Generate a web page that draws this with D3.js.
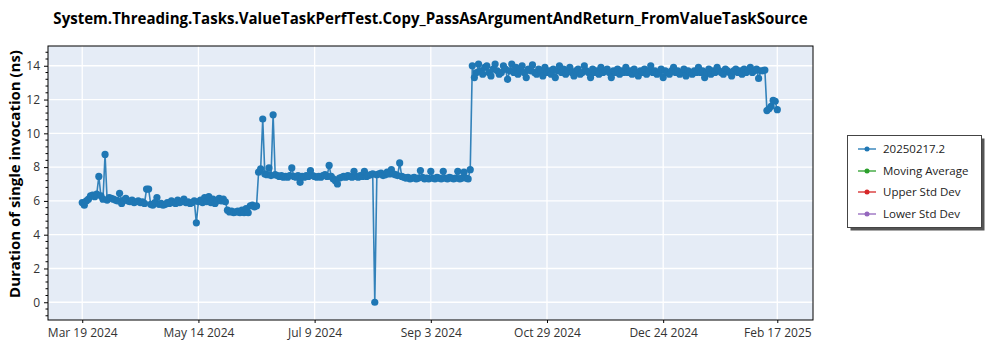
<!DOCTYPE html>
<html>
<head>
<meta charset="utf-8">
<script src="https://cdn.jsdelivr.net/npm/d3@7"></script>
<style>
  html, body { margin: 0; padding: 0; background: #fff; }
  svg { display: block; font-family: "Open Sans", "Noto Sans", sans-serif; }
</style>
</head>
<body>
<svg id="chart" width="1000" height="350"></svg>
<script>
// ---------------- data ----------------
const title = "System.Threading.Tasks.ValueTaskPerfTest.Copy_PassAsArgumentAndReturn_FromValueTaskSource";
const yLabel = "Duration of single invocation (ns)";
const seriesStart = "2024-03-19"; // first run, one run per day
const legendLabels = ["20250217.2", "Moving Average", "Upper Std Dev", "Lower Std Dev"];
const legendColors = ["#1f77b4", "#2ca02c", "#d62728", "#9467bd"];
const xTickDates = ["2024-03-19", "2024-05-14", "2024-07-09", "2024-09-03", "2024-10-29", "2024-12-24", "2025-02-17"];
const xTickLabels = ["Mar 19 2024", "May 14 2024", "Jul 9 2024", "Sep 3 2024", "Oct 29 2024", "Dec 24 2024", "Feb 17 2025"];
const yTicks = [0, 2, 4, 6, 8, 10, 12, 14];

// Mar 19 - May 28 2024 (~6 ns)
const valuesA = [
  5.9, 5.75, 6.0, 6.1, 6.3, 6.35, 6.25, 6.4, 7.45, 6.3,
  6.1, 8.75, 6.05, 6.2, 6.15, 6.1, 6.05, 6.0, 6.45, 5.85,
  6.05, 6.15, 6.0, 5.95, 6.05, 5.9, 5.95, 6.0, 5.9, 5.95,
  5.85, 6.7, 6.7, 5.8, 5.75, 5.9, 6.2, 5.8, 5.85, 5.75,
  5.8, 5.9, 5.85, 6.0, 5.9, 5.85, 6.05, 5.9, 5.95, 6.1,
  5.9, 5.95, 5.85, 5.9, 6.0, 4.7, 5.95, 6.05, 5.9, 6.2,
  5.95, 6.25, 5.9, 6.1, 5.85, 6.0, 6.15, 6.0, 6.1, 5.95
];
// late May - mid June 2024 (~5.4 ns)
const valuesB = [5.45, 5.35, 5.4, 5.3, 5.35, 5.4, 5.3, 5.45, 5.3, 5.55, 5.3, 5.7, 5.75, 5.65, 5.7];
// mid June - Sep 22 2024 (~7.4 ns)
const valuesC = [
  7.7, 7.9, 10.85, 7.6, 7.55, 7.95, 7.5, 11.1, 7.55, 7.5,
  7.45, 7.5, 7.4, 7.45, 7.4, 7.5, 7.95, 7.45, 7.4, 7.5,
  7.1, 7.45, 7.4, 7.5, 7.45, 7.8, 7.5, 7.45, 7.4, 7.45,
  7.4, 7.5, 7.55, 7.45, 8.1, 7.45, 7.3, 7.2, 7.0, 7.35,
  7.4, 7.45, 7.4, 7.5, 7.45, 7.4, 7.75, 7.45, 7.4, 7.5,
  7.45, 7.75, 7.45, 7.5, 7.55, 7.6, 0.0, 7.55, 7.6, 7.65,
  7.5, 7.55, 7.7, 7.6, 7.85, 7.6, 7.55, 7.5, 8.25, 7.45,
  7.4, 7.35, 7.4, 7.3, 7.35, 7.4, 7.3, 7.35, 7.8, 7.4,
  7.3, 7.35, 7.3, 7.75, 7.35, 7.3, 7.4, 7.35, 7.3, 7.75,
  7.35, 7.3, 7.4, 7.35, 7.3, 7.35, 7.75, 7.3, 7.35, 7.7,
  7.35, 7.3, 7.85
];
// Sep 23 2024 - Feb 11 2025 (~13.7 ns)
const valuesD = [
  14.0, 13.3, 13.6, 14.1, 13.7, 13.5, 13.9, 14.0, 13.6, 13.4,
  13.8, 14.1, 13.7, 13.5, 13.6, 14.0, 13.8, 13.2, 13.7, 14.1,
  13.6, 13.9, 13.5, 13.7, 14.0, 13.6, 13.3, 13.8, 13.7, 14.05,
  13.6, 13.5, 13.8, 13.7, 13.4, 13.9, 13.6, 13.7, 13.5, 13.8,
  13.3, 13.7, 14.0, 13.6, 13.8, 13.5, 13.7, 13.9, 13.6, 13.4,
  13.7, 13.8, 13.5, 13.6, 14.0, 13.7, 13.6, 13.3, 13.8, 13.6,
  13.7, 13.5, 13.9, 13.6, 13.7, 13.8, 13.6, 13.3, 13.7, 13.6,
  13.8, 13.5, 13.7, 13.6, 13.9, 13.6, 13.7, 13.5, 13.8, 13.6,
  13.4, 13.7, 13.6, 13.8, 13.5, 13.7, 14.0, 13.6, 13.7, 13.5,
  13.6, 13.8, 13.3, 13.7, 13.6, 13.5, 13.7, 13.9, 13.6, 13.7,
  13.5, 13.6, 13.8, 13.4, 13.7, 13.6, 13.5, 13.7, 13.6, 13.9,
  13.6, 13.7, 13.3, 13.6, 13.8, 13.5, 13.7, 13.6, 13.9, 13.7,
  13.6, 13.5, 13.8, 13.7, 13.6, 13.4, 13.7, 13.8, 13.6, 13.7,
  13.5, 13.8, 13.6, 13.7, 13.9, 13.6, 13.7, 13.8, 13.25, 13.7,
  13.7, 13.75
];
// Feb 12 - Feb 17 2025 (~11.5 ns)
const valuesE = [11.35, 11.45, 11.6, 11.95, 11.9, 11.4];

// ---------------- layout ----------------
const W = 1000, H = 350;
const plot = { left: 48, right: 813, top: 46, bottom: 320 };
const parse = d3.utcParse("%Y-%m-%d");

const values = [].concat(valuesA, valuesB, valuesC, valuesD, valuesE);
const start = parse(seriesStart);
const data = values.map((v, i) => ({ date: d3.utcDay.offset(start, i), value: v }));

const x = d3.scaleUtc()
  .domain([new Date(Date.UTC(2024, 2, 2, 12)), new Date(Date.UTC(2025, 2, 6, 5))])
  .range([plot.left, plot.right]);
const y = d3.scaleLinear().domain([-1.05, 15.17]).range([plot.bottom, plot.top]);

const svg = d3.select("#chart");

// background
svg.append("rect").attr("x", 0).attr("y", 0).attr("width", W).attr("height", H).attr("fill", "#fff");
svg.append("rect")
  .attr("x", plot.left).attr("y", plot.top)
  .attr("width", plot.right - plot.left).attr("height", plot.bottom - plot.top)
  .attr("fill", "#e5ecf6");

// grid
const xTicks = xTickDates.map(parse);
svg.append("g").selectAll("line").data(xTicks).join("line")
  .attr("x1", d => x(d)).attr("x2", d => x(d))
  .attr("y1", plot.top).attr("y2", plot.bottom)
  .attr("stroke", "#fff").attr("stroke-width", 1.3);
svg.append("g").selectAll("line").data(yTicks).join("line")
  .attr("x1", plot.left).attr("x2", plot.right)
  .attr("y1", d => y(d)).attr("y2", d => y(d))
  .attr("stroke", "#fff").attr("stroke-width", 1.3);

// series
svg.append("clipPath").attr("id", "clip").append("rect")
  .attr("x", plot.left).attr("y", plot.top)
  .attr("width", plot.right - plot.left).attr("height", plot.bottom - plot.top);
const gData = svg.append("g").attr("clip-path", "url(#clip)");
const line = d3.line().x(d => x(d.date)).y(d => y(d.value));
gData.append("path").datum(data)
  .attr("fill", "none").attr("stroke", legendColors[0]).attr("stroke-width", 1.6)
  .attr("stroke-opacity", 0.9).attr("d", line);
gData.append("g").selectAll("circle").data(data).join("circle")
  .attr("cx", d => x(d.date)).attr("cy", d => y(d.value)).attr("r", 3.6)
  .attr("fill", legendColors[0]);

// axes
const yAxis = d3.axisLeft(y).tickValues(yTicks).tickSize(4).tickPadding(4).tickFormat(d3.format("d"));
const gy = svg.append("g").attr("transform", `translate(${plot.left},0)`).call(yAxis);
const minor = d3.range(-0.8, 15.0, 0.4).filter(v => Math.abs(v / 2 - Math.round(v / 2)) > 0.01);
svg.append("g").selectAll("line").data(minor).join("line")
  .attr("x1", plot.left - 2.5).attr("x2", plot.left)
  .attr("y1", d => y(d)).attr("y2", d => y(d))
  .attr("stroke", "#000").attr("stroke-width", 1);

const xAxis = d3.axisBottom(x).tickValues(xTicks).tickSize(3).tickPadding(5)
  .tickFormat((d, i) => xTickLabels[i]);
const gx = svg.append("g").attr("transform", `translate(0,${plot.bottom})`).call(xAxis);

[gx, gy].forEach(g => {
  g.select(".domain").remove();
  g.selectAll(".tick line").attr("stroke", "#000");
  g.selectAll(".tick text").attr("fill", "#333").style("font-size", "12px")
    .style("font-family", "'Open Sans', sans-serif");
});

// frame
svg.append("rect")
  .attr("x", plot.left).attr("y", plot.top)
  .attr("width", plot.right - plot.left).attr("height", plot.bottom - plot.top)
  .attr("fill", "none").attr("stroke", "#000").attr("stroke-width", 1);

// title
const t = svg.append("text")
  .attr("x", (plot.left + plot.right) / 2).attr("y", 24)
  .attr("text-anchor", "middle").attr("font-weight", "bold")
  .style("font-size", "15px").attr("fill", "#000").text(title);
const tw = t.node().getComputedTextLength();
t.style("font-size", (15 * 755 / tw).toFixed(2) + "px");

// y label
const yl = svg.append("text")
  .attr("transform", `translate(20,174) rotate(-90)`)
  .attr("text-anchor", "middle").attr("font-weight", "bold")
  .style("font-size", "16px").attr("fill", "#000").text(yLabel);
const yw = yl.node().getComputedTextLength();
yl.style("font-size", (16 * 248 / yw).toFixed(2) + "px");

// legend
const lg = svg.append("g");
const lb = { x: 847.5, y: 135.5, w: 134, h: 92 };
lg.append("rect").attr("x", lb.x + 3).attr("y", lb.y + 3).attr("width", lb.w).attr("height", lb.h)
  .attr("fill", "#555");
lg.append("rect").attr("x", lb.x).attr("y", lb.y).attr("width", lb.w).attr("height", lb.h)
  .attr("fill", "#fff").attr("stroke", "#444").attr("stroke-width", 1);
const rowY = [149, 171, 192, 214];
legendLabels.forEach((lab, i) => {
  const g = lg.append("g").attr("transform", `translate(0,${rowY[i]})`);
  g.append("line").attr("x1", 858).attr("x2", 876).attr("y1", 0).attr("y2", 0)
    .attr("stroke", legendColors[i]).attr("stroke-width", 1.3);
  g.append("circle").attr("cx", 867).attr("cy", 0).attr("r", 2.5).attr("fill", legendColors[i]);
  g.append("text").attr("x", 883).attr("y", 0).attr("dy", "0.35em")
    .style("font-size", "11.5px").attr("fill", "#222").text(lab);
});
</script>
</body>
</html>
